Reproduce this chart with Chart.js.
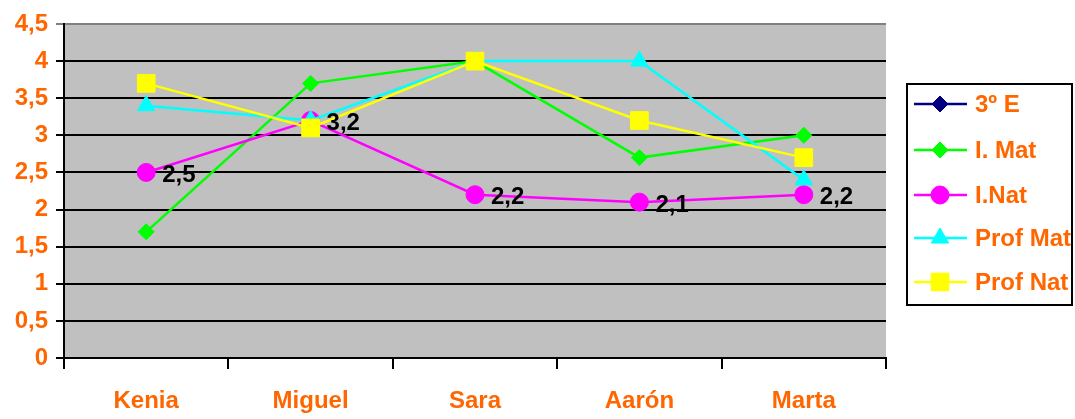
<!DOCTYPE html>
<html>
<head>
<meta charset="utf-8">
<script src="https://cdn.jsdelivr.net/npm/chart.js@4"></script>
<style>
  html, body { margin: 0; padding: 0; background: #ffffff; }
  #wrap { width: 1075px; height: 419px; }
</style>
</head>
<body>
<div id="wrap"><canvas id="c" width="1075" height="419"></canvas></div>
<script>
// Students and series scores
const categories = ['Kenia', 'Miguel', 'Sara', 'Aarón', 'Marta'];
const serie3E   = [null, null, null, null, null];
const iMat      = [1.7, 3.7, 4.0, 2.7, 3.0];
const iNat      = [2.5, 3.2, 2.2, 2.1, 2.2];
const profMat   = [3.4, 3.2, 4.0, 4.0, 2.4];
const profNat   = [3.7, 3.1, 4.0, 3.2, 2.7];
const yTicks    = [0, 0.5, 1, 1.5, 2, 2.5, 3, 3.5, 4, 4.5];

const ORANGE = '#FF6600';
const FONT = 'Arial, "Liberation Sans", sans-serif';
const fmt = v => String(v).replace('.', ',');

// later series are painted over earlier ones
function series(label, data, color, style, radius, idx) {
  return {
    label, data,
    order: 10 - idx,
    borderColor: color, backgroundColor: color,
    borderWidth: 2.5,
    pointStyle: style, pointRadius: radius,
    pointBorderWidth: 1, pointBorderColor: color, pointBackgroundColor: color,
    tension: 0, spanGaps: false
  };
}

const datasets = [
  series('3º E',     serie3E, '#000080', 'rectRot',  8,    0),
  series('I. Mat',   iMat,    '#00FF00', 'rectRot',  8,    1),
  series('I.Nat',    iNat,    '#FF00FF', 'circle',   9,    2),
  series('Prof Mat', profMat, '#00FFFF', 'triangle', 10,   3),
  series('Prof Nat', profNat, '#FFFF00', 'rect',     12.5, 4)
];

// grey plot background
const plotBg = {
  id: 'plotBg',
  beforeDraw(chart) {
    const { ctx, chartArea: a } = chart;
    ctx.save();
    ctx.fillStyle = '#C0C0C0';
    ctx.fillRect(a.left, a.top, a.right - a.left, a.bottom - a.top);
    ctx.restore();
  }
};

// value labels next to the I.Nat points
const valueLabels = {
  id: 'valueLabels',
  afterDatasetsDraw(chart) {
    const { ctx } = chart;
    const idx = 2;
    const meta = chart.getDatasetMeta(idx);
    ctx.save();
    ctx.font = 'bold 24px ' + FONT;
    ctx.fillStyle = '#000000';
    ctx.textAlign = 'left';
    ctx.textBaseline = 'middle';
    meta.data.forEach((pt, i) => {
      const v = chart.data.datasets[idx].data[i];
      if (v == null) return;
      ctx.fillText(fmt(v), pt.x + 16, pt.y + 3);
    });
    ctx.restore();
  }
};

// boxed legend with line + marker samples
const boxLegend = {
  id: 'boxLegend',
  afterDraw(chart) {
    const { ctx } = chart;
    const left = 907, top = 84, w = 165, h = 221;
    ctx.save();
    ctx.fillStyle = '#ffffff';
    ctx.fillRect(left, top, w, h);
    ctx.lineWidth = 2;
    ctx.strokeStyle = '#000000';
    ctx.strokeRect(left, top, w, h);
    const rows = [104, 150, 195, 238, 282];
    chart.data.datasets.forEach((ds, i) => {
      const y = rows[i];
      ctx.strokeStyle = ds.borderColor;
      ctx.lineWidth = 2.5;
      ctx.beginPath();
      ctx.moveTo(914, y);
      ctx.lineTo(967, y);
      ctx.stroke();
      ctx.fillStyle = ds.pointBackgroundColor;
      ctx.strokeStyle = ds.pointBorderColor;
      ctx.lineWidth = 1;
      Chart.helpers.drawPoint(ctx, {
        pointStyle: ds.pointStyle,
        radius: ds.pointRadius,
        borderWidth: 1,
        rotation: 0
      }, 940, y);
      ctx.fillStyle = ORANGE;
      ctx.font = 'bold 24px ' + FONT;
      ctx.textAlign = 'left';
      ctx.textBaseline = 'middle';
      ctx.fillText(ds.label, 975, y + 1);
    });
    ctx.restore();
  }
};

new Chart(document.getElementById('c'), {
  type: 'line',
  data: { labels: categories, datasets },
  plugins: [plotBg, valueLabels, boxLegend],
  options: {
    responsive: false,
    animation: false,
    events: [],
    layout: { padding: { top: 24, right: 189, left: 0, bottom: 0 } },
    plugins: { legend: { display: false }, tooltip: { enabled: false } },
    scales: {
      x: {
        offset: true,
        grid: {
          offset: true,
          drawOnChartArea: false,
          drawTicks: true,
          tickLength: 11,
          color: '#000000',
          lineWidth: 2
        },
        border: { display: true, color: '#000000', width: 2 },
        ticks: {
          color: ORANGE,
          font: { family: FONT, size: 24, weight: 'bold' },
          padding: 18,
          maxRotation: 0
        },
        afterFit(scale) { scale.height = 61; }
      },
      y: {
        min: 0, max: 4.5,
        afterBuildTicks(scale) { scale.ticks = yTicks.map(v => ({ value: v })); },
        grid: {
          color: ctx => (ctx.tick && ctx.tick.value === 4.5) ? '#808080' : '#000000',
          lineWidth: 2,
          tickLength: 8,
          drawTicks: true
        },
        border: { display: true, color: '#000000', width: 2 },
        ticks: {
          color: ORANGE,
          font: { family: FONT, size: 24, weight: 'bold' },
          padding: 8,
          callback: v => fmt(v)
        },
        afterFit(scale) { scale.width = 64; }
      }
    }
  }
});
</script>
</body>
</html>
